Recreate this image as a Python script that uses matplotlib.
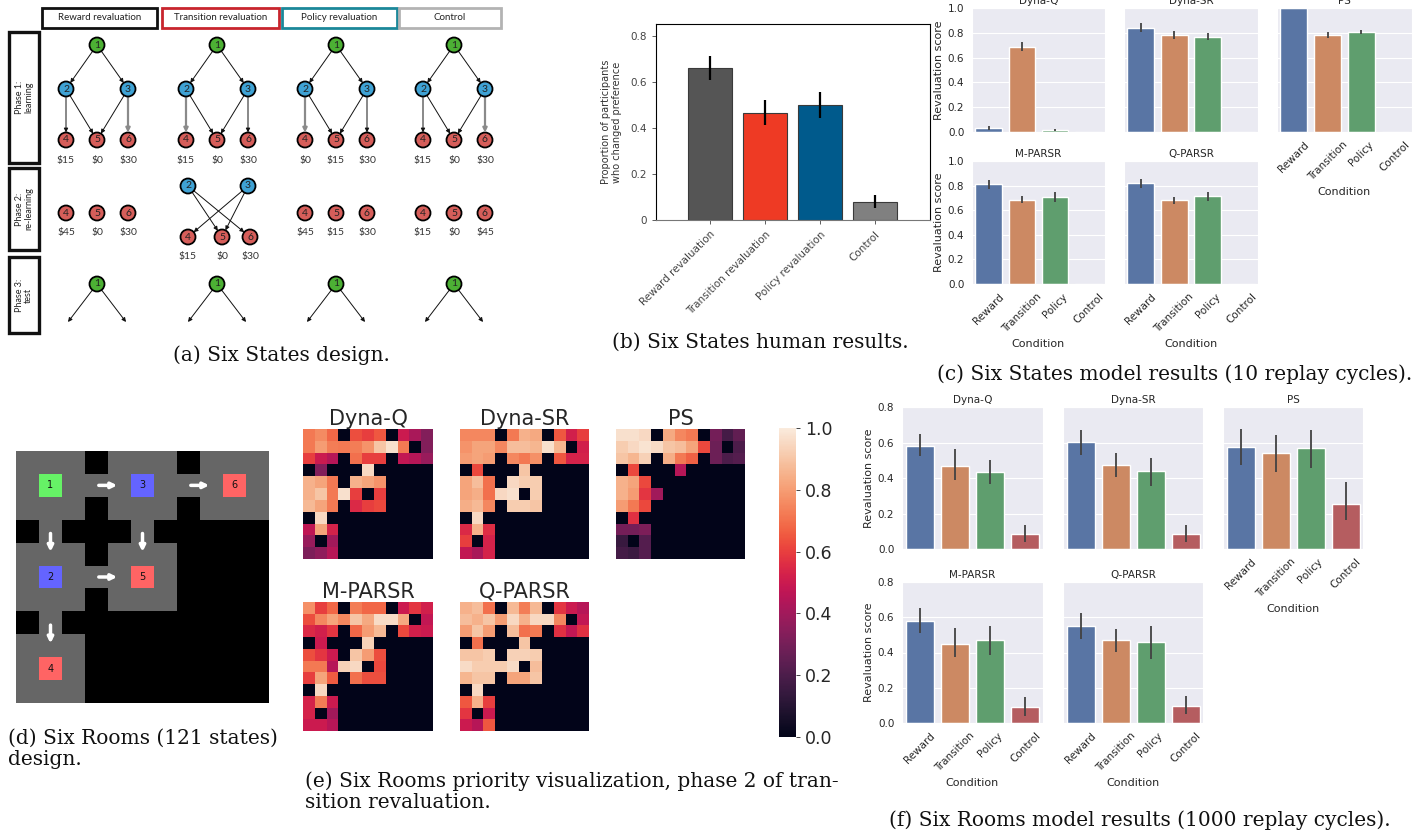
import numpy as np
import matplotlib
matplotlib.use('Agg')
import matplotlib.pyplot as plt
from matplotlib.patches import Circle, Rectangle
import seaborn as sns

W, H = 1427, 834

# ---------------- (a) Six States design ----------------
conditions = ['Reward revaluation', 'Transition revaluation', 'Policy revaluation', 'Control']
cond_colors = ['#111111', '#c8252d', '#1b8799', '#b3b3b3']
phase1_rewards = [['$15', '$0', '$30'], ['$15', '$0', '$30'], ['$0', '$15', '$30'], ['$15', '$0', '$30']]
phase2_rewards = [['$45', '$0', '$30'], ['$15', '$0', '$30'], ['$45', '$15', '$30'], ['$15', '$0', '$45']]
preferred_edges = [(3, 6), (2, 4), (2, 4), (3, 6)]
phase1_edges = [(1, 2), (1, 3), (2, 4), (2, 5), (3, 5), (3, 6)]
relearn_edges = [(2, 5), (2, 6), (3, 4), (3, 5)]
phase_labels = ['Phase 1:\nlearning', 'Phase 2:\nre-learning', 'Phase 3:\ntest']

# ---------------- (b) Six States human results ----------------
human_means = [0.658, 0.466, 0.499, 0.080]
human_lo = [0.605, 0.410, 0.444, 0.051]
human_hi = [0.712, 0.521, 0.556, 0.110]
human_colors = ['#555555', '#ee3a24', '#005a8c', '#808080']

# ---------------- (c) Six States model results ----------------
models = ['Dyna-Q', 'Dyna-SR', 'PS', 'M-PARSR', 'Q-PARSR']
short_conditions = ['Reward', 'Transition', 'Policy', 'Control']
six_states_means = [[0.032, 0.683, 0.016, 0.0],
                    [0.839, 0.782, 0.766, 0.0],
                    [1.000, 0.782, 0.806, 0.0],
                    [0.811, 0.685, 0.704, 0.0],
                    [0.819, 0.682, 0.712, 0.0]]
six_states_lo = [[0.013, 0.651, 0.008, 0.0],
                 [0.806, 0.750, 0.739, 0.0],
                 [1.000, 0.755, 0.790, 0.0],
                 [0.776, 0.655, 0.663, 0.0],
                 [0.782, 0.650, 0.677, 0.0]]
six_states_hi = [[0.046, 0.723, 0.024, 0.0],
                 [0.879, 0.815, 0.796, 0.0],
                 [1.000, 0.809, 0.823, 0.0],
                 [0.844, 0.714, 0.744, 0.0],
                 [0.855, 0.709, 0.747, 0.0]]

# ---------------- (d) Six Rooms layout ----------------
room_layout = ['...#...#...',
               '.1...3...6.',
               '...#...#...',
               '#.###.#####',
               '...#...####',
               '.2...5.####',
               '...#...####',
               '#.#########',
               '...########',
               '.4.########',
               '...########']
state_colors = {'1': '#66f266', '2': '#6464ff', '3': '#6464ff',
                '4': '#ff6464', '5': '#ff6464', '6': '#ff6464'}
room_arrows = [(1, 3.5, 'right'), (1, 7.5, 'right'), (3.5, 1, 'down'),
               (3.5, 5, 'down'), (5, 3.5, 'right'), (7.5, 1, 'down')]

# ---------------- (e) priority maps ----------------
priority_dyna_q = [
    [0.72, 0.76, 0.68, 0, 0.63, 0.60, 0.65, 0, 0.50, 0.42, 0.33],
    [0.72, 0.80, 0.73, 0.72, 0.73, 0.78, 0.90, 0.97, 0.72, 0, 0.33],
    [0.60, 0.50, 0.45, 0, 0.70, 0.60, 0.60, 0, 0.48, 0.45, 0.38],
    [0, 0.33, 0, 0, 0, 0.95, 0, 0, 0, 0, 0],
    [0.85, 0.82, 0.72, 0, 0.85, 0.82, 0.78, 0, 0, 0, 0],
    [0.85, 0.90, 0.72, 0.97, 0.60, 0, 0.60, 0, 0, 0, 0],
    [0.87, 0.82, 0.72, 0, 0.55, 0.60, 0.62, 0, 0, 0, 0],
    [0, 0.95, 0, 0, 0, 0, 0, 0, 0, 0, 0],
    [0.47, 0.82, 0.53, 0, 0, 0, 0, 0, 0, 0, 0],
    [0.38, 0, 0.40, 0, 0, 0, 0, 0, 0, 0, 0],
    [0.32, 0.36, 0.45, 0, 0, 0, 0, 0, 0, 0, 0]]
priority_dyna_sr = [
    [0.75, 0.75, 0.75, 0, 0.72, 0.85, 0.83, 0, 0.65, 0.52, 0.60],
    [0.78, 0.82, 0.82, 0.75, 0.88, 0.88, 0.86, 0.97, 0.86, 0, 0.52],
    [0.80, 0.82, 0.80, 0, 0.75, 0.72, 0.77, 0, 0.65, 0.53, 0.53],
    [0, 0.62, 0, 0, 0, 0.90, 0, 0, 0, 0, 0],
    [0.82, 0.88, 0.70, 0, 0.95, 0.92, 0.92, 0, 0, 0, 0],
    [0.82, 0.84, 0.70, 0.95, 0.97, 0, 0.92, 0, 0, 0, 0],
    [0.84, 0.87, 0.75, 0, 0.92, 0.92, 0.90, 0, 0, 0, 0],
    [0, 0.95, 0, 0, 0, 0, 0, 0, 0, 0, 0],
    [0.55, 0.85, 0.56, 0, 0, 0, 0, 0, 0, 0, 0],
    [0.60, 0, 0.53, 0, 0, 0, 0, 0, 0, 0, 0],
    [0.48, 0.42, 0.53, 0, 0, 0, 0, 0, 0, 0, 0]]
priority_ps = [
    [0.97, 0.97, 0.95, 0, 0.83, 0.75, 0.72, 0, 0.30, 0.18, 0.25],
    [0.92, 0.95, 0.98, 0.96, 0.90, 0.88, 0.82, 0.62, 0.28, 0, 0.20],
    [0.90, 0.86, 0.93, 0, 0.84, 0.72, 0.67, 0, 0.28, 0.20, 0.22],
    [0, 0.62, 0, 0, 0, 0.45, 0, 0, 0, 0, 0],
    [0.85, 0.82, 0.62, 0, 0, 0, 0, 0, 0, 0, 0],
    [0.85, 0.80, 0.58, 0.40, 0, 0, 0, 0, 0, 0, 0],
    [0.80, 0.72, 0.62, 0, 0, 0, 0, 0, 0, 0, 0],
    [0, 0.57, 0, 0, 0, 0, 0, 0, 0, 0, 0],
    [0.30, 0.30, 0.32, 0, 0, 0, 0, 0, 0, 0, 0],
    [0.15, 0, 0.22, 0, 0, 0, 0, 0, 0, 0, 0],
    [0.18, 0.16, 0.22, 0, 0, 0, 0, 0, 0, 0, 0]]
priority_m_parsr = [
    [0.77, 0.60, 0.68, 0, 0.73, 0.68, 0.68, 0, 0.50, 0.58, 0.52],
    [0.63, 0.75, 0.82, 0.75, 0.90, 0.83, 0.96, 0.96, 0.83, 0, 0.48],
    [0.55, 0.52, 0.58, 0, 0.68, 0.80, 0.87, 0, 0.62, 0.52, 0.50],
    [0, 0.50, 0, 0, 0, 0.93, 0, 0, 0, 0, 0],
    [0.63, 0.58, 0.50, 0, 0.90, 0.80, 0.63, 0, 0, 0, 0],
    [0.72, 0.72, 0.45, 0.93, 0.95, 0, 0.62, 0, 0, 0, 0],
    [0.60, 0.82, 0.66, 0, 0.70, 0.63, 0.63, 0, 0, 0, 0],
    [0, 0.95, 0, 0, 0, 0, 0, 0, 0, 0, 0],
    [0.53, 0.73, 0.50, 0, 0, 0, 0, 0, 0, 0, 0],
    [0.53, 0, 0.40, 0, 0, 0, 0, 0, 0, 0, 0],
    [0.50, 0.50, 0.45, 0, 0, 0, 0, 0, 0, 0, 0]]
priority_q_parsr = [
    [0.85, 0.88, 0.70, 0, 0.87, 0.73, 0.87, 0, 0.58, 0.50, 0.45],
    [0.88, 0.85, 0.90, 0.80, 0.95, 0.85, 0.95, 0.95, 0.75, 0, 0.48],
    [0.80, 0.90, 0.80, 0, 0.88, 0.70, 0.72, 0, 0.57, 0.48, 0.57],
    [0, 0.70, 0, 0, 0, 0.90, 0, 0, 0, 0, 0],
    [0.90, 0.90, 0.92, 0, 0.93, 0.93, 0.92, 0, 0, 0, 0],
    [0.96, 0.92, 0.92, 0.92, 0.96, 0, 0.88, 0, 0, 0, 0],
    [0.86, 0.90, 0.90, 0, 0.82, 0.82, 0.90, 0, 0, 0, 0],
    [0, 0.95, 0, 0, 0, 0, 0, 0, 0, 0, 0],
    [0.65, 0.85, 0.60, 0, 0, 0, 0, 0, 0, 0, 0],
    [0.58, 0, 0.50, 0, 0, 0, 0, 0, 0, 0, 0],
    [0.50, 0.45, 0.65, 0, 0, 0, 0, 0, 0, 0, 0]]
priority_maps = [priority_dyna_q, priority_dyna_sr, priority_ps, priority_m_parsr, priority_q_parsr]

# ---------------- (f) Six Rooms model results ----------------
six_rooms_means = [[0.580, 0.466, 0.434, 0.085],
                   [0.601, 0.471, 0.439, 0.085],
                   [0.577, 0.541, 0.569, 0.255],
                   [0.579, 0.451, 0.470, 0.089],
                   [0.553, 0.470, 0.460, 0.098]]
six_rooms_lo = [[0.525, 0.387, 0.364, 0.039],
                [0.528, 0.406, 0.355, 0.039],
                [0.473, 0.436, 0.454, 0.161],
                [0.509, 0.372, 0.387, 0.042],
                [0.475, 0.402, 0.362, 0.053]]
six_rooms_hi = [[0.647, 0.562, 0.504, 0.133],
                [0.669, 0.541, 0.515, 0.133],
                [0.674, 0.644, 0.669, 0.377],
                [0.655, 0.540, 0.553, 0.147],
                [0.626, 0.534, 0.553, 0.155]]

bar_palette = ['#5975a4', '#cc8963', '#5f9e6e', '#b55d60']


def px_rect(x0, y0, x1, y1):
    """Figure-fraction rectangle from pixel corners (origin top-left)."""
    return [x0 / W, 1 - y1 / H, (x1 - x0) / W, (y1 - y0) / H]


def caption(x, y, s, ha='center', va='center'):
    fig.text(x / W, 1 - y / H, s, ha=ha, va=va, fontsize=14.5,
             family='DejaVu Serif', color='#111111', linespacing=1.15)


def arrow(ax, p0, p1, color='#111111', lw=0.7, r=7.5):
    p0, p1 = np.array(p0, float), np.array(p1, float)
    u = (p1 - p0) / np.linalg.norm(p1 - p0)
    ax.annotate('', xy=p1 - u * r, xytext=p0 + u * r,
                arrowprops=dict(arrowstyle='-|>', color=color, lw=lw,
                                shrinkA=0, shrinkB=0, mutation_scale=6))


def node(ax, xy, label):
    color = {1: '#4cb034', 2: '#3fa2d4', 3: '#3fa2d4'}.get(label, '#d65e5a')
    ax.add_patch(Circle(xy, 7.5, facecolor=color, edgecolor='black', lw=1.3, zorder=3))
    ax.text(xy[0], xy[1], str(label), ha='center', va='center', fontsize=7.5,
            family='Lato', color='#222222', zorder=4)


def model_bars(ax, means, lo, hi, title, show_x, show_y, top, yticks):
    x = np.arange(len(short_conditions))
    ax.bar(x, means, width=0.8, color=bar_palette, zorder=2)
    for xi, a, b in zip(x, lo, hi):
        if b > a:
            ax.vlines(xi, a, b, color='#424242', lw=1.3, zorder=3)
    ax.set_xlim(-0.5, 3.5)
    ax.set_ylim(0, top)
    ax.set_yticks(yticks)
    ax.xaxis.grid(False)
    ax.set_title(title, fontsize=7.5, color='#262626', pad=3)
    ax.tick_params(labelsize=7.5, colors='#262626', pad=2)
    ax.set_xticks(x)
    if show_x:
        ax.set_xticklabels(short_conditions, rotation=45)
        ax.set_xlabel('Condition', fontsize=8, color='#262626', labelpad=3)
    else:
        ax.set_xticklabels([])
    if show_y:
        ax.set_ylabel('Revaluation score', fontsize=8, color='#262626', labelpad=3)
    else:
        ax.set_yticklabels([])


fig = plt.figure(figsize=(W / 100, H / 100), dpi=100)

# ---- (a) ----
ax = fig.add_axes(px_rect(0, 0, 580, 340))
ax.set_xlim(0, 580)
ax.set_ylim(340, 0)
ax.axis('off')
group_x = [97, 217, 336, 454]
header_x = [(42, 157), (162, 279), (282, 397), (399, 501)]
phase1_pos = {1: (0, 45), 2: (-31, 89), 3: (31, 89), 4: (-31, 140), 5: (0, 140), 6: (31, 140)}
for k, name in enumerate(conditions):
    gx = group_x[k]
    hx0, hx1 = header_x[k]
    ax.add_patch(Rectangle((hx0, 8), hx1 - hx0, 20, fill=False, lw=2, edgecolor=cond_colors[k]))
    ax.text((hx0 + hx1) / 2, 18, name, ha='center', va='center', fontsize=7,
            family='Lato', color='#222222')
    # phase 1
    for a, b in phase1_edges:
        grey = (a, b) == preferred_edges[k]
        arrow(ax, (gx + phase1_pos[a][0], phase1_pos[a][1]),
              (gx + phase1_pos[b][0], phase1_pos[b][1]),
              color='#8a8a8a' if grey else '#111111', lw=1.6 if grey else 0.7)
    for n, (dx, dy) in phase1_pos.items():
        node(ax, (gx + dx, dy), n)
    for j, txt in enumerate(phase1_rewards[k]):
        ax.text(gx + phase1_pos[4 + j][0], 160, txt, ha='center', va='center',
                fontsize=7.5, family='Lato', color='#333333')
    # phase 2
    if k == 1:
        p2 = {2: (-29, 186), 3: (31, 186), 4: (-29, 237), 5: (5, 237), 6: (33, 237)}
        for a, b in relearn_edges:
            arrow(ax, (gx + p2[a][0], p2[a][1]), (gx + p2[b][0], p2[b][1]))
        label_y = 256
    else:
        p2 = {4: (-31, 213), 5: (0, 213), 6: (31, 213)}
        label_y = 232
    for n, (dx, dy) in p2.items():
        node(ax, (gx + dx, dy), n)
    for j, txt in enumerate(phase2_rewards[k]):
        ax.text(gx + p2[4 + j][0], label_y, txt, ha='center', va='center',
                fontsize=7.5, family='Lato', color='#333333')
    # phase 3
    for dx in (-29, 29):
        arrow(ax, (gx, 284), (gx + dx, 322), r=0)
    node(ax, (gx, 284), 1)
for (y0, y1), lab in zip([(32, 163), (168, 250), (257, 333)], phase_labels):
    ax.add_patch(Rectangle((9, y0), 30, y1 - y0, fill=False, lw=2.4, edgecolor='#111111'))
    ax.text(24, (y0 + y1) / 2, lab, rotation=90, ha='center', va='center',
            fontsize=6.5, family='Lato', color='#222222', linespacing=1.0)
caption(281, 355, '(a) Six States design.')

# ---- (b) ----
ax = fig.add_axes(px_rect(656, 24, 930, 220))
x = np.arange(len(conditions))
ax.bar(x, human_means, width=0.8, color=human_colors, edgecolor='#3a3a3a', lw=0.8)
ax.vlines(x, human_lo, human_hi, color='black', lw=1.6)
ax.set_xlim(-0.98, 4.0)
ax.set_ylim(0, 0.85)
ax.set_yticks([0, 0.2, 0.4, 0.6, 0.8])
ax.set_yticklabels(['0', '0.2', '0.4', '0.6', '0.8'])
ax.set_xticks(x)
ax.set_xticklabels(conditions, rotation=45, ha='right', rotation_mode='anchor')
ax.tick_params(labelsize=7.5, colors='#444444', length=3, width=0.6)
ax.spines['bottom'].set_color('#777777')
ax.set_ylabel('Proportion of participants\nwho changed preference', fontsize=7,
              color='#333333', labelpad=6)
caption(760, 342, '(b) Six States human results.')

# ---- (c) and (f) ----
c_cols = [(972, 1105), (1124, 1258), (1277, 1412)]
c_rows = [(8, 132), (161, 284)]
f_cols = [(902, 1043), (1063, 1203), (1223, 1363)]
f_rows = [(407, 549), (582, 723)]
grid_slots = [(0, 0), (0, 1), (0, 2), (1, 0), (1, 1)]
with sns.axes_style('darkgrid'):
    for i, (r, c) in enumerate(grid_slots):
        ax = fig.add_axes(px_rect(c_cols[c][0], c_rows[r][0], c_cols[c][1], c_rows[r][1]))
        model_bars(ax, six_states_means[i], six_states_lo[i], six_states_hi[i], models[i],
                   show_x=(r == 1 or c == 2), show_y=(c == 0), top=1.0,
                   yticks=[0, 0.2, 0.4, 0.6, 0.8, 1.0])
        ax = fig.add_axes(px_rect(f_cols[c][0], f_rows[r][0], f_cols[c][1], f_rows[r][1]))
        model_bars(ax, six_rooms_means[i], six_rooms_lo[i], six_rooms_hi[i], models[i],
                   show_x=(r == 1 or c == 2), show_y=(c == 0), top=0.8,
                   yticks=[0, 0.2, 0.4, 0.6, 0.8])
caption(1175, 374, '(c) Six States model results (10 replay cycles).')
caption(1140, 820, '(f) Six Rooms model results (1000 replay cycles).')

# ---- (d) ----
ax = fig.add_axes(px_rect(16, 451, 269, 703))
rgb = np.zeros((11, 11, 3))
for i, row in enumerate(room_layout):
    for j, ch in enumerate(row):
        if ch == '#':
            continue
        rgb[i, j] = matplotlib.colors.to_rgb(state_colors.get(ch, '#666666'))
ax.imshow(rgb, aspect='auto', interpolation='nearest')
for i, row in enumerate(room_layout):
    for j, ch in enumerate(row):
        if ch.isdigit():
            ax.text(j, i, ch, ha='center', va='center', fontsize=7, color='#111111')
for r, c, d in room_arrows:
    dx, dy = (0.4, 0) if d == 'right' else (0, 0.4)
    ax.annotate('', xy=(c + dx, r + dy), xytext=(c - dx, r - dy),
                arrowprops=dict(arrowstyle='-|>', color='white', lw=2.5,
                                shrinkA=0, shrinkB=0, mutation_scale=8))
ax.set_xticks([])
ax.set_yticks([])
for s in ax.spines.values():
    s.set_visible(False)
caption(8, 729, '(d) Six Rooms (121 states)\ndesign.', ha='left', va='top')

# ---- (e) ----
cmap = sns.color_palette('rocket', as_cmap=True)
e_cols = [(303, 433), (460, 589), (616, 745)]
e_rows = [(429, 559), (602, 731)]
for i, (r, c) in enumerate(grid_slots):
    ax = fig.add_axes(px_rect(e_cols[c][0], e_rows[r][0], e_cols[c][1], e_rows[r][1]))
    im = ax.imshow(np.array(priority_maps[i]), cmap=cmap, vmin=0, vmax=1,
                   aspect='auto', interpolation='nearest')
    ax.set_xticks([])
    ax.set_yticks([])
    for s in ax.spines.values():
        s.set_visible(False)
    ax.set_title(models[i], fontsize=15, color='#262626', pad=3)
cax = fig.add_axes(px_rect(779, 428, 796, 737))
cb = fig.colorbar(im, cax=cax)
cb.outline.set_visible(False)
cb.set_ticks([0, 0.2, 0.4, 0.6, 0.8, 1.0])
cb.ax.tick_params(labelsize=12.5, colors='#262626', length=3, width=0.6)
caption(305, 771, '(e) Six Rooms priority visualization, phase 2 of tran-\nsition revaluation.',
        ha='left', va='top')

fig.savefig('out.png', dpi=100)
